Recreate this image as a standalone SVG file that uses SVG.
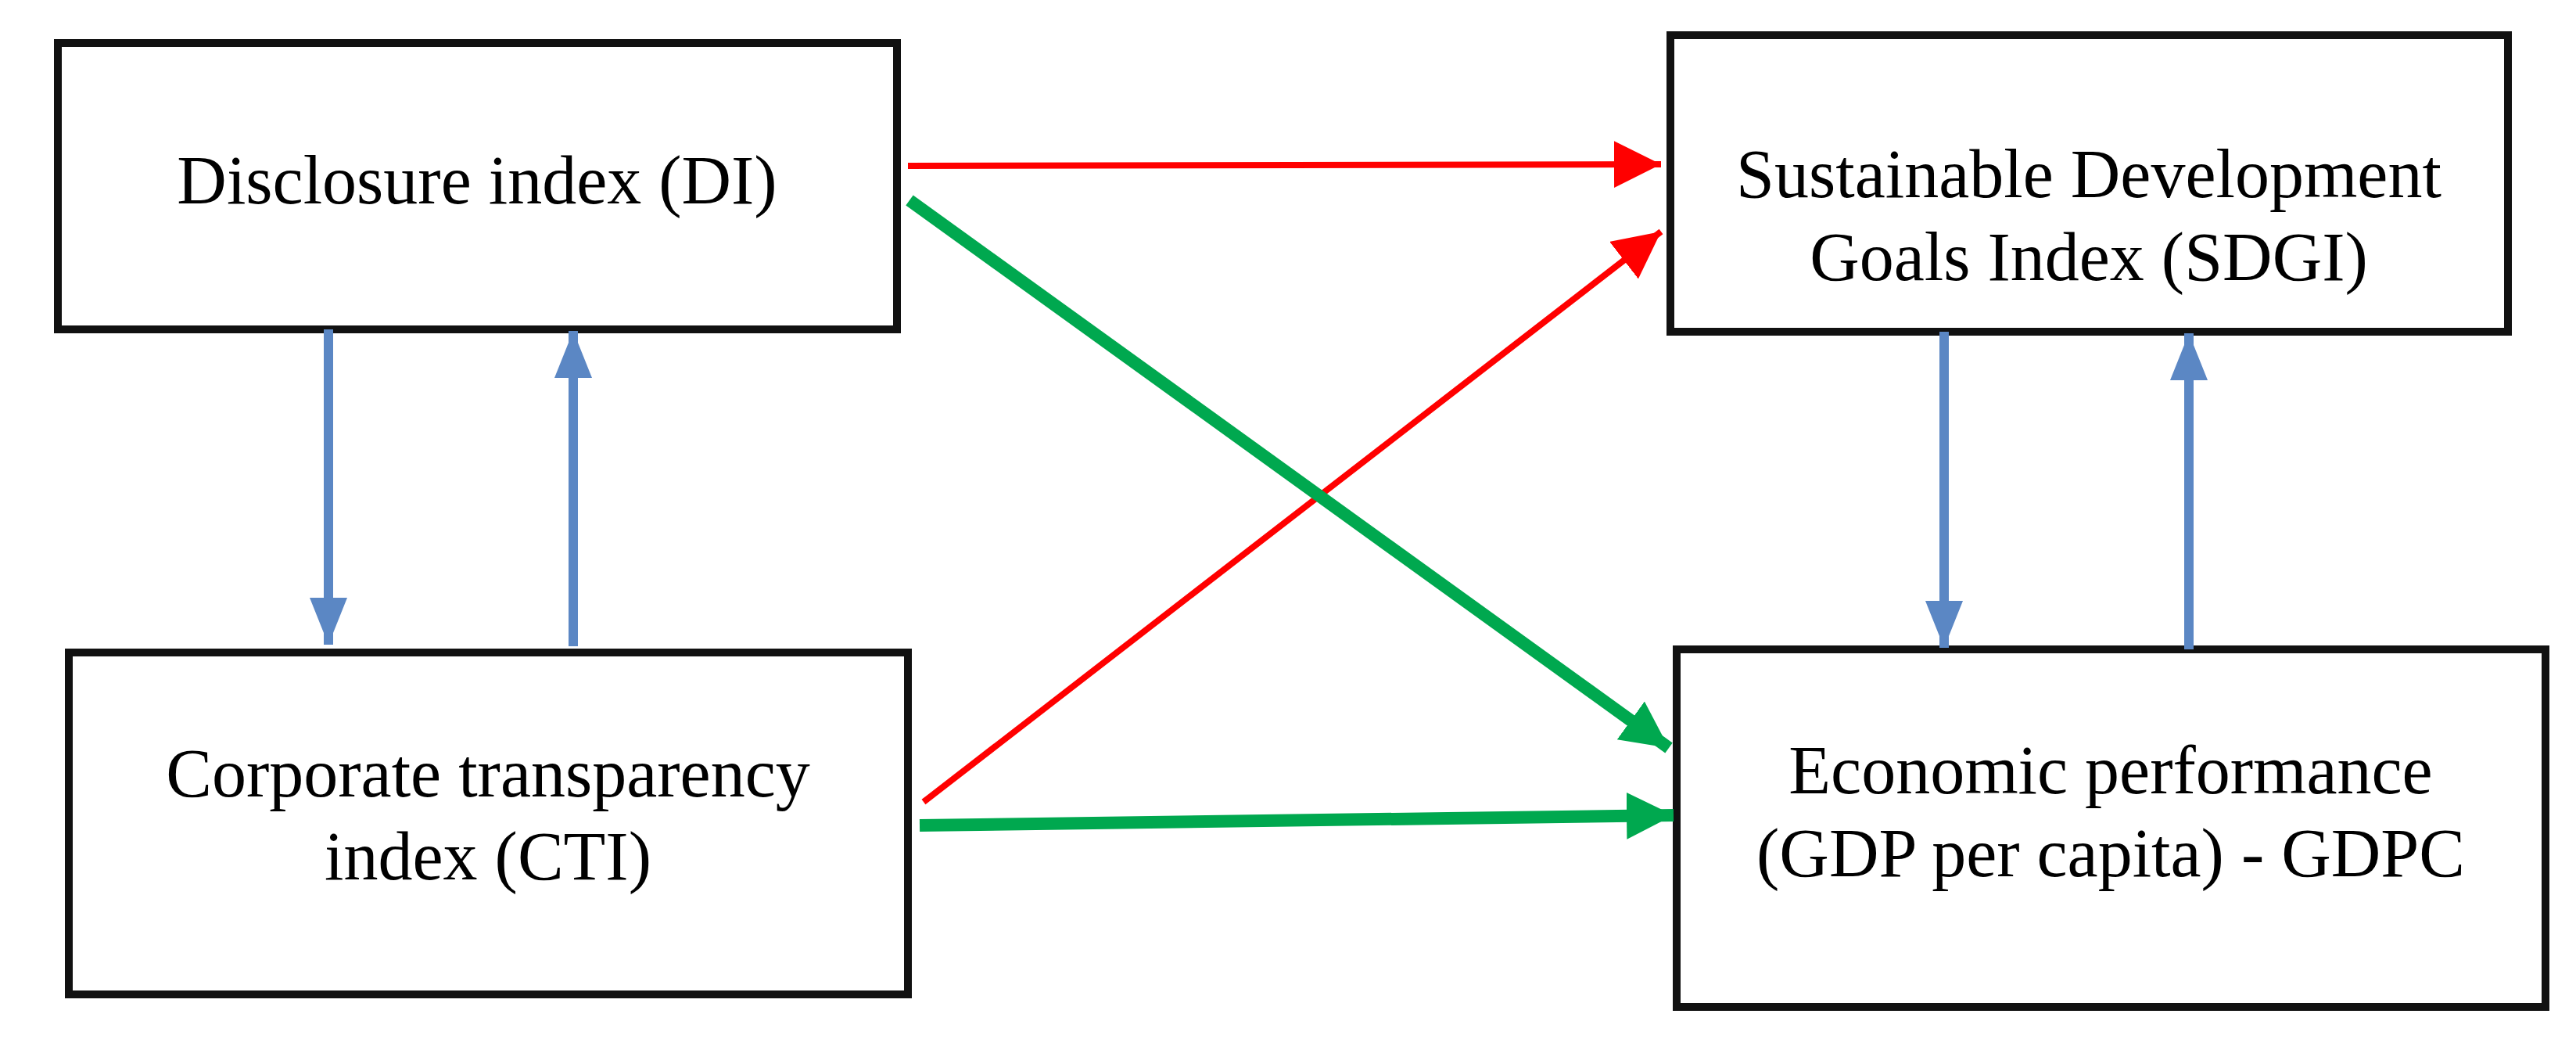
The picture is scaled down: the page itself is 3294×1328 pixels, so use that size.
<svg xmlns="http://www.w3.org/2000/svg" width="3294" height="1328" viewBox="0 0 3294 1328">
<style>
.box{fill:#fff;stroke:#111;stroke-width:10}
.t{font-family:"Liberation Serif",serif;font-size:88px;fill:#000;text-anchor:middle}
.red{stroke:#ff0000;stroke-width:8;fill:none}
.green{stroke:#00a84f;stroke-width:16;fill:none}
.blue{stroke:#5b87c4;stroke-width:12;fill:none}
</style>
<defs>
<marker id="mr" markerUnits="userSpaceOnUse" markerWidth="70" markerHeight="70" refX="60" refY="30" orient="auto"><path d="M0,0 L60,30 L0,60 Z" fill="#ff0000"/></marker>
<marker id="mg" markerUnits="userSpaceOnUse" markerWidth="70" markerHeight="70" refX="60" refY="30" orient="auto"><path d="M0,0 L60,30 L0,60 Z" fill="#00a84f"/></marker>
<marker id="mb" markerUnits="userSpaceOnUse" markerWidth="70" markerHeight="70" refX="60" refY="24" orient="auto"><path d="M0,0 L60,24 L0,48 Z" fill="#5b87c4"/></marker>
</defs>
<rect width="3294" height="1328" fill="#fff"/>
<g id="di"><rect class="box" x="74" y="55" width="1073" height="366"/><text class="t" x="610" y="260">Disclosure index (DI)</text></g>
<g id="sdgi"><rect class="box" x="2136" y="45" width="1071" height="379"/><text class="t" x="2671" y="252">Sustainable Development</text><text class="t" x="2671" y="358">Goals Index (SDGI)</text></g>
<g id="cti"><rect class="box" x="88" y="834" width="1073" height="437"/><text class="t" x="624" y="1018">Corporate transparency</text><text class="t" x="624" y="1124">index (CTI)</text></g>
<g id="gdpc"><rect class="box" x="2144" y="830" width="1111" height="457"/><text class="t" x="2699" y="1014">Economic performance</text><text class="t" x="2699" y="1120">(GDP per capita) - GDPC</text></g>
<g id="connectors">
<line class="red" x1="1161" y1="212" x2="2124" y2="210" marker-end="url(#mr)"/>
<line class="red" x1="1181" y1="1025" x2="2124" y2="296" marker-end="url(#mr)"/>
<line class="green" x1="1163" y1="256" x2="2134" y2="956" marker-end="url(#mg)"/>
<line class="green" x1="1176" y1="1055" x2="2140" y2="1042" marker-end="url(#mg)"/>
<line class="blue" x1="420" y1="421" x2="420" y2="824" marker-end="url(#mb)"/>
<line class="blue" x1="733" y1="826" x2="733" y2="423" marker-end="url(#mb)"/>
<line class="blue" x1="2486" y1="424" x2="2486" y2="828" marker-end="url(#mb)"/>
<line class="blue" x1="2799" y1="830" x2="2799" y2="426" marker-end="url(#mb)"/>
</g>
</svg>
